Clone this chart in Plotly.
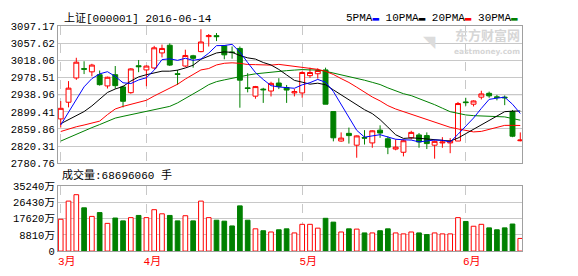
import plotly.graph_objects as go

dates = [
    "2016-03-17", "2016-03-18", "2016-03-21", "2016-03-22", "2016-03-23", "2016-03-24",
    "2016-03-25", "2016-03-28", "2016-03-29", "2016-03-30", "2016-03-31",
    "2016-04-01", "2016-04-05", "2016-04-06", "2016-04-07", "2016-04-08", "2016-04-11",
    "2016-04-12", "2016-04-13", "2016-04-14", "2016-04-15", "2016-04-18", "2016-04-19",
    "2016-04-20", "2016-04-21", "2016-04-22", "2016-04-25", "2016-04-26", "2016-04-27",
    "2016-04-28", "2016-04-29",
    "2016-05-03", "2016-05-04", "2016-05-05", "2016-05-06", "2016-05-09", "2016-05-10",
    "2016-05-11", "2016-05-12", "2016-05-13", "2016-05-16", "2016-05-17", "2016-05-18",
    "2016-05-19", "2016-05-20", "2016-05-23", "2016-05-24", "2016-05-25", "2016-05-26",
    "2016-05-27", "2016-05-30", "2016-05-31",
    "2016-06-01", "2016-06-02", "2016-06-03", "2016-06-06", "2016-06-07", "2016-06-08",
    "2016-06-13", "2016-06-14",
]

open_ = [2883.1, 2921.5, 2977.5, 2999.0, 2991.6, 2985.0, 2959.1, 2985.0, 2956.9, 2943.6,
         3005.7, 2996.0, 3000.5, 3035.2, 3052.9, 2987.2, 3005.0, 3028.6, 3038.2, 3072.8,
         3075.0, 3051.5, 3037.3, 3045.5, 2954.7, 2935.5, 2951.8, 2947.4, 2965.8, 2955.4,
         2943.0, 2942.9, 2982.8, 2987.2, 2996.0, 2900.0, 2832.1, 2849.8, 2822.5, 2840.2,
         2827.7, 2857.2, 2837.3, 2813.6, 2806.2, 2839.5, 2846.1, 2844.6, 2822.5, 2827.7,
         2827.7, 2832.1, 2922.2, 2917.0, 2933.2, 2942.1, 2934.0, 2933.2, 2900.0, 2832.8]
high = [2924.3, 2970.2, 3024.0, 3016.0, 3010.1, 2994.6, 2980.6, 3005.0, 2959.8, 3000.0,
        3018.9, 3006.4, 3051.5, 3054.4, 3057.3, 2996.0, 3042.6, 3030.8, 3089.8, 3078.8,
        3081.0, 3052.9, 3050.0, 3050.0, 2988.6, 2959.1, 2954.7, 2968.7, 2976.9, 2961.3,
        2952.0, 2993.0, 3001.2, 2999.8, 3001.2, 2900.0, 2852.0, 2863.1, 2845.0, 2857.2,
        2857.0, 2868.3, 2843.0, 2835.8, 2835.8, 2855.7, 2850.5, 2852.0, 2833.5, 2841.0,
        2838.8, 2922.2, 2931.8, 2925.9, 2948.0, 2946.0, 2938.5, 2937.1, 2903.7, 2852.0]
low = [2863.2, 2909.7, 2973.1, 2986.4, 2981.3, 2959.8, 2953.2, 2952.5, 2909.7, 2941.0,
       2990.8, 2958.4, 2998.0, 3024.9, 3005.0, 2961.3, 3002.8, 3001.2, 3036.7, 3050.0,
       3062.5, 3020.5, 3021.9, 2908.9, 2944.3, 2929.6, 2920.0, 2934.8, 2951.8, 2920.0,
       2935.0, 2931.8, 2977.5, 2976.0, 2917.0, 2831.3, 2830.5, 2826.2, 2793.6, 2824.0,
       2816.6, 2839.5, 2801.8, 2810.7, 2796.7, 2835.8, 2816.6, 2813.6, 2791.4, 2816.6,
       2804.0, 2832.0, 2913.3, 2911.8, 2928.0, 2931.8, 2925.9, 2914.8, 2841.0, 2831.3]
close = [2907.5, 2954.0, 3013.8, 2997.6, 3007.2, 2962.0, 2979.1, 2959.8, 2923.7, 2998.3,
         3003.5, 3004.9, 3047.0, 3045.5, 3007.2, 2985.7, 3029.3, 3022.7, 3060.4, 3075.0,
         3072.8, 3030.8, 3036.0, 2972.4, 2953.2, 2957.6, 2950.3, 2965.0, 2957.6, 2949.6,
         2946.0, 2990.1, 2990.1, 2994.6, 2917.0, 2839.5, 2838.8, 2844.6, 2843.9, 2838.8,
         2855.7, 2850.5, 2818.0, 2818.0, 2832.8, 2852.0, 2829.8, 2826.2, 2831.3, 2829.8,
         2832.1, 2918.5, 2920.7, 2924.4, 2940.7, 2936.2, 2932.5, 2931.8, 2843.2, 2834.3]

ma5 = [2869, 2898, 2930, 2957, 2976.0, 2986.9, 2991.9, 2981.1, 2966.4, 2964.6,
       2972.9, 2978.0, 2995.5, 3019.8, 3021.6, 3018.1, 3022.9, 3018.1, 3021.1, 3034.6,
       3052.0, 3052.3, 3055.0, 3037.4, 3013.0, 2990.0, 2973.9, 2959.7, 2956.7, 2956.0,
       2953.7, 2961.7, 2966.7, 2974.1, 2967.6, 2946.3, 2916.0, 2886.9, 2856.8, 2841.1,
       2844.4, 2846.7, 2841.4, 2836.2, 2835.0, 2834.3, 2830.1, 2831.8, 2834.4, 2833.8,
       2829.8, 2847.6, 2866.5, 2885.1, 2907.3, 2928.1, 2930.9, 2933.1, 2916.9, 2895.6]
ma10 = [2872, 2881, 2890, 2900, 2913, 2928, 2944, 2952, 2958, 2970.3,
        2979.9, 2985.0, 2988.3, 2993.1, 2993.1, 2995.5, 3000.5, 3006.8, 3020.5, 3028.1,
        3035.1, 3037.6, 3036.5, 3029.2, 3023.8, 3021.0, 3013.1, 3007.4, 2997.1, 2984.5,
        2971.9, 2967.8, 2963.2, 2965.4, 2961.8, 2950.0, 2938.8, 2926.8, 2915.4, 2904.3,
        2895.3, 2881.4, 2864.1, 2846.5, 2838.1, 2839.3, 2838.4, 2836.6, 2835.3, 2834.4,
        2832.1, 2838.9, 2849.1, 2859.8, 2870.6, 2879.0, 2889.2, 2899.8, 2901.0, 2901.4]
ma20 = [2854, 2860, 2865, 2869, 2873, 2878, 2893, 2906, 2912, 2917,
        2922, 2926, 2936, 2945, 2955, 2963, 2975, 2986, 2996, 2999.2,
        3007.5, 3011.3, 3012.4, 3011.2, 3008.5, 3008.2, 3006.8, 3007.1, 3008.8, 3006.3,
        3003.5, 3002.7, 2999.9, 2997.3, 2992.8, 2985.5, 2976.0, 2967.1, 2956.2, 2944.4,
        2933.6, 2924.6, 2913.7, 2905.9, 2899.9, 2894.6, 2888.6, 2881.7, 2875.4, 2869.4,
        2863.7, 2860.1, 2856.6, 2853.1, 2854.3, 2859.1, 2863.8, 2868.2, 2868.2, 2867.9]
ma30 = [2832, 2840, 2847, 2855, 2863, 2870, 2878, 2885, 2889, 2893,
        2897, 2900, 2904, 2908, 2912, 2920, 2930, 2941, 2951, 2962,
        2969, 2973, 2977, 2980, 2984, 2987, 2989, 2992, 2993, 2994.3,
        2995.6, 2996.8, 2996.0, 2995.9, 2992.9, 2988.8, 2984.1, 2980.3, 2977.6, 2972.3,
        2967.4, 2962.3, 2954.6, 2947.0, 2941.2, 2936.8, 2930.1, 2923.6, 2915.9, 2907.8,
        2899.7, 2896.0, 2892.2, 2890.6, 2890.1, 2889.4, 2888.8, 2887.7, 2883.9, 2880.1]

# volume in 万手
volume = [17260, 27100, 30570, 23470, 18810, 20880, 15030, 17930, 16380, 18140,
          19330, 18140, 22440, 20210, 19330, 16380, 19170, 16380, 27100, 18140,
          16740, 16220, 13630, 24510, 16740, 12070, 11040, 10360, 11560, 12070,
          9850, 14510, 14510, 12440, 17770, 15700, 10360, 12070, 11920, 9850,
          9850, 11040, 12070, 9850, 9330, 10360, 9850, 8970, 9850, 9330,
          9330, 18140, 16060, 13470, 14510, 12590, 11560, 12590, 14670, 6870]

price_ticks = ["2780.76", "2820.31", "2859.86", "2899.41", "2938.96",
               "2978.51", "3018.06", "3057.62", "3097.17"]
vol_ticks = [0, 8810, 17620, 26430, 35240]
vol_tick_text = ["0", "8810万", "17620万", "26430万", "35240万"]
month_names = {"03": "3月", "04": "4月", "05": "5月", "06": "6月"}

title_text = "上证[000001] 2016-06-14"
vol_label = "成交量:68696060 手"

RED = "#ff0000"
GREEN = "#008000"
FONT = "Liberation Mono, 'Noto Sans CJK SC', monospace"

# month start categories
month_ticks, month_text = [], []
for d in dates:
    m = d[5:7]
    if m not in [t[5:7] for t in month_ticks]:
        month_ticks.append(d)
        month_text.append(month_names[m])

fig = go.Figure()

fig.add_trace(go.Candlestick(
    x=dates, open=open_, high=high, low=low, close=close,
    increasing=dict(line=dict(color=RED, width=1), fillcolor="#ffffff"),
    decreasing=dict(line=dict(color=GREEN, width=1), fillcolor=GREEN),
    whiskerwidth=0, showlegend=False, hoverinfo="skip", xaxis="x", yaxis="y",
))

for vals, col in [(ma30, GREEN), (ma20, RED), (ma10, "#000000"), (ma5, "#0000ff")]:
    fig.add_trace(go.Scatter(x=dates, y=vals, mode="lines",
                             line=dict(color=col, width=1),
                             showlegend=False, hoverinfo="skip",
                             xaxis="x", yaxis="y"))

up = [c > o for o, c in zip(open_, close)]
fig.add_trace(go.Bar(
    x=dates, y=volume, width=0.6,
    marker=dict(color=["#ffffff" if u else GREEN for u in up],
                line=dict(color=[RED if u else GREEN for u in up], width=1)),
    showlegend=False, hoverinfo="skip", xaxis="x2", yaxis="y2",
))

xrange = [-0.35, len(dates) - 1 + 0.22]
axis_common = dict(showline=True, mirror=True, linecolor="#a0a0a0", linewidth=1,
                   zeroline=False, ticks="", fixedrange=True)

fig.update_layout(
    width=578, height=276,
    margin=dict(l=58, r=56, t=0, b=0),
    paper_bgcolor="#ffffff", plot_bgcolor="#ffffff",
    boxgap=0.1, boxgroupgap=0.3,
    bargap=0.2,
    xaxis=dict(type="category", domain=[0, 1], anchor="y", range=xrange,
               rangeslider=dict(visible=False),
               tickvals=month_ticks, showticklabels=False,
               showgrid=True, gridcolor="#c8c8c8", griddash="dash", gridwidth=1,
               **axis_common),
    yaxis=dict(domain=[0.4004, 0.9203], anchor="x",
               range=[float(price_ticks[0]), float(price_ticks[-1])],
               tickvals=[float(t) for t in price_ticks], ticktext=price_ticks,
               showgrid=True, gridcolor="#c8c8c8", gridwidth=1,
               tickfont=dict(family=FONT, size=10.5, color="#000000"),
               **axis_common),
    xaxis2=dict(type="category", domain=[0, 1], anchor="y2", range=xrange,
                tickvals=month_ticks, ticktext=month_text,
                showgrid=True, gridcolor="#c8c8c8", griddash="dash", gridwidth=1,
                tickfont=dict(family=FONT, size=11, color=RED),
                ticklabelshift=6,
                **axis_common),
    yaxis2=dict(domain=[0.0678, 0.3141], anchor="x2",
                range=[vol_ticks[0], vol_ticks[-1]],
                tickvals=vol_ticks, ticktext=vol_tick_text,
                showgrid=True, gridcolor="#c8c8c8", gridwidth=1,
                tickfont=dict(family=FONT, size=10.5, color="#000000"),
                **axis_common),
)

# darker centre grid line of price panel
fig.add_shape(type="line", xref="x domain", yref="y", x0=0, x1=1,
              y0=float(price_ticks[4]), y1=float(price_ticks[4]),
              line=dict(color="#a0a0a0", width=1), layer="below")

legend_text = ("5PMA<span style='color:#0000ff'>▬</span> "
               "10PMA<span style='color:#000000'>▬</span> "
               "20PMA<span style='color:#ff0000'>▬</span> "
               "30PMA<span style='color:#008000'>▬</span>")

fig.add_annotation(xref="paper", yref="paper", x=0.0086, y=0.949,
                   xanchor="left", yanchor="middle", showarrow=False,
                   text=title_text, font=dict(family=FONT, size=11, color="#000000"))
fig.add_annotation(xref="paper", yref="paper", x=0.9957, y=0.949,
                   xanchor="right", yanchor="middle", showarrow=False,
                   text=legend_text, font=dict(family=FONT, size=11, color="#000000"))
fig.add_annotation(xref="paper", yref="paper", x=0.0043, y=0.355,
                   xanchor="left", yanchor="middle", showarrow=False,
                   text=vol_label, font=dict(family=FONT, size=11, color="#000000"))
# watermark
fig.add_annotation(xref="paper", yref="paper", x=0.925, y=0.888,
                   xanchor="center", yanchor="middle", showarrow=False,
                   text="<b>东方财富网</b>", borderpad=0,
                   font=dict(family="'Noto Sans CJK SC'", size=13, color="#d6d6d6"))
fig.add_annotation(xref="paper", yref="paper", x=0.925, y=0.822,
                   xanchor="center", yanchor="middle", showarrow=False,
                   text="<b>eastmoney.com</b>", borderpad=0,
                   font=dict(family="DejaVu Sans", size=7.5, color="#d6d6d6"))
fig.add_annotation(xref="paper", yref="paper", x=0.8, y=0.862,
                   xanchor="center", yanchor="middle", showarrow=False,
                   text="<b>◥</b>", borderpad=0,
                   font=dict(family="DejaVu Sans", size=16, color="#dcdcdc"))

fig.write_html("out.html")
